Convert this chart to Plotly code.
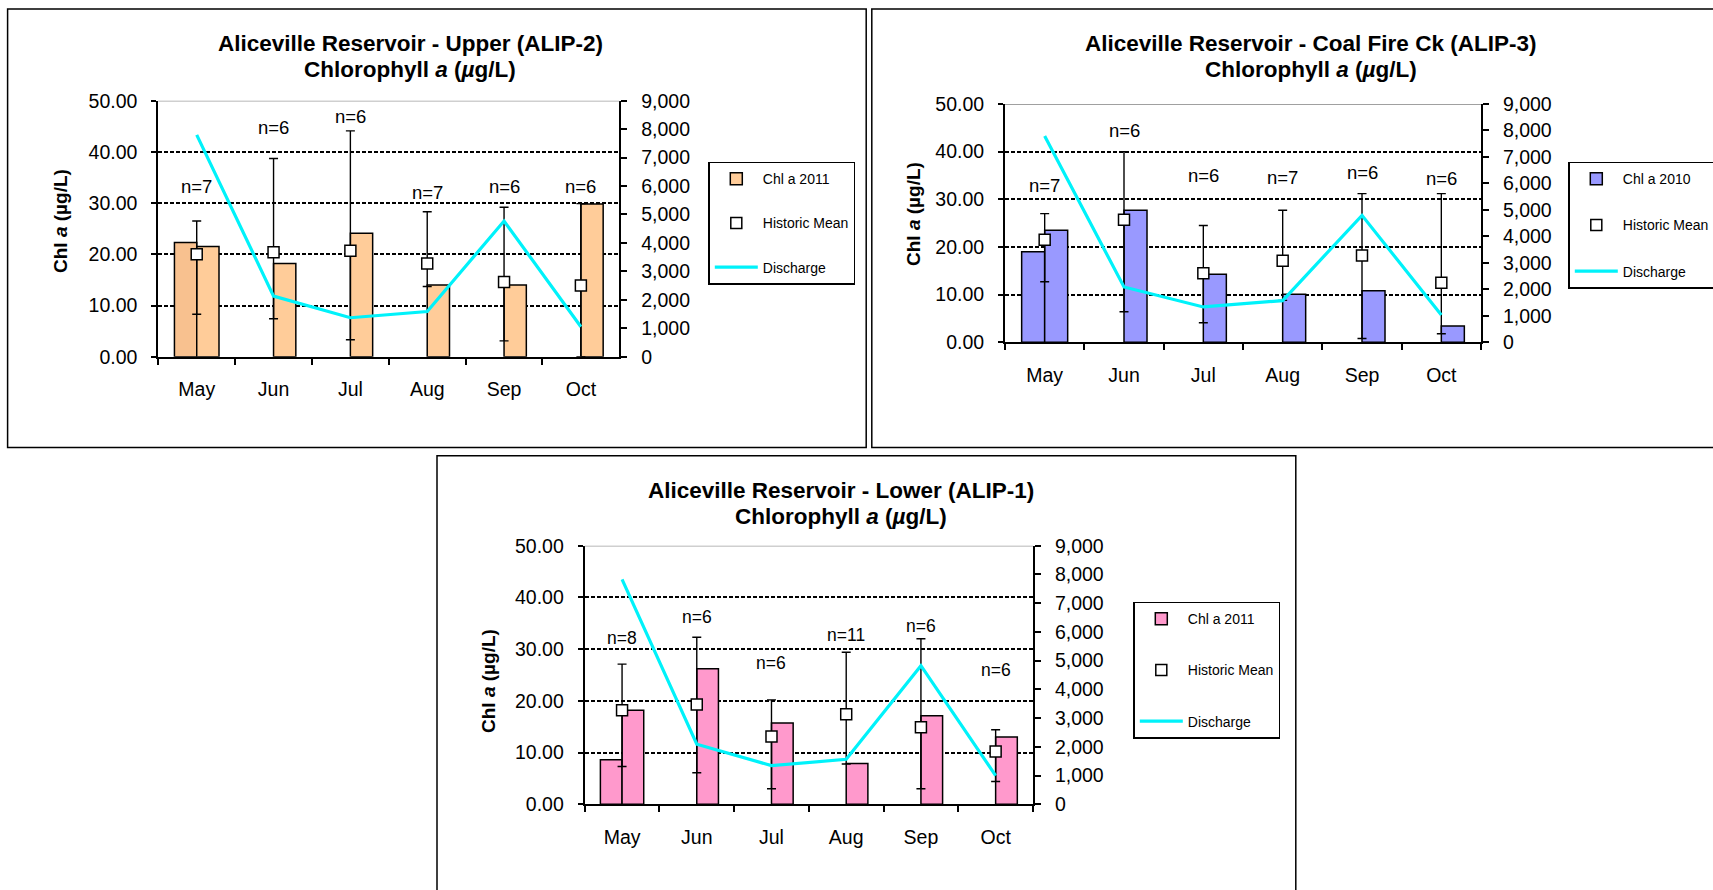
import plotly.graph_objects as go

W, H = 1713, 890
FONT = "Liberation Sans, Arial, sans-serif"

months = ["May", "Jun", "Jul", "Aug", "Sep", "Oct"]

# ---------------- Panel 1: Upper (ALIP-2) ----------------
up_bar_early = [22.3, None, None, None, None, None]
up_bar = [21.5, 18.2, 24.1, 14.0, 14.0, 29.8]
up_mean = [20.0, 20.4, 20.7, 18.2, 14.6, 13.9]
up_hi = [26.5, 38.7, 44.1, 28.3, 29.2, 29.9]
up_lo = [8.3, 7.4, 3.3, 13.7, 3.1, 0.0]
up_q = [7800, 2130, 1370, 1590, 4770, 1055]
up_n = ["n=7", "n=6", "n=6", "n=7", "n=6", "n=6"]
up_n_y = [33.2, 44.7, 46.9, 32.1, 33.2, 33.3]

# ---------------- Panel 2: Coal Fire Ck (ALIP-3) ----------------
cf_bar_early = [19.0, None, None, None, None, None]
cf_bar = [23.5, 27.7, 14.3, 10.1, 10.8, 3.4]
cf_mean = [21.5, 25.7, 14.5, 17.1, 18.2, 12.5]
cf_hi = [27.0, 40.0, 24.5, 27.7, 31.2, 31.2]
cf_lo = [12.7, 6.4, 4.1, 8.8, 0.8, 1.8]
cf_q = [7790, 2090, 1335, 1575, 4795, 1030]
cf_n = ["n=7", "n=6", "n=6", "n=7", "n=6", "n=6"]
cf_n_y = [33.0, 44.5, 35.1, 34.6, 35.6, 34.4]

# ---------------- Panel 3: Lower (ALIP-1) ----------------
lo_bar_early = [8.6, None, None, None, None, None]
lo_bar = [18.2, 26.2, 15.7, 7.9, 17.1, 13.0]
lo_mean = [18.2, 19.3, 13.1, 17.4, 14.9, 10.2]
lo_hi = [27.1, 32.3, 20.2, 29.4, 32.0, 14.4]
lo_lo = [7.3, 6.1, 3.0, 7.8, 3.0, 4.4]
lo_q = [7830, 2090, 1345, 1565, 4825, 1000]
lo_n = ["n=8", "n=6", "n=6", "n=11", "n=6", "n=6"]
lo_n_y = [32.1, 36.3, 27.4, 32.7, 34.5, 26.0]


def px_x(p):
    return p / W


def px_y(p):
    return 1 - p / H


fig = go.Figure()
annotations = []
shapes = []
layout = {}

panels = [
    dict(early=up_bar_early, bar=up_bar, mean=up_mean, hi=up_hi, lo=up_lo, q=up_q,
         n=up_n, ny=up_n_y, name="Chl a 2011", color="#FFCC99", early_color="#F8C18F",
         xa="x", ya="y", ya2="y2", lg="legend", nsize=18.5,
         dom_x=(158.3, 619.3), dom_y=(100.7, 356.7),
         title1="Aliceville Reservoir - Upper (ALIP-2)", tx=410, ty1=43.7, ty2=69.0,
         ytx=60, yty=221,
         leg=(708.3, 161.7), leg_gap=23,
         border=(7.6, 9.0, 866.2, 447.5)),
    dict(early=cf_bar_early, bar=cf_bar, mean=cf_mean, hi=cf_hi, lo=cf_lo, q=cf_q,
         n=cf_n, ny=cf_n_y, name="Chl a 2010", color="#9999FF", early_color="#9999FF",
         xa="x2", ya="y3", ya2="y4", lg="legend2", nsize=18.5,
         dom_x=(1005.0, 1481.0), dom_y=(104.0, 342.3),
         title1="Aliceville Reservoir - Coal Fire Ck (ALIP-3)", tx=1310.5, ty1=43.7, ty2=69.5,
         ytx=913, yty=214,
         leg=(1568.3, 161.7), leg_gap=25,
         border=(871.8, 9.0, 1720.0, 447.5)),
    dict(early=lo_bar_early, bar=lo_bar, mean=lo_mean, hi=lo_hi, lo=lo_lo, q=lo_q,
         n=lo_n, ny=lo_n_y, name="Chl a 2011", color="#FF99CC", early_color="#FF99CC",
         xa="x3", ya="y5", ya2="y6", lg="legend3", nsize=17.5,
         dom_x=(584.7, 1033.0), dom_y=(545.7, 804.3),
         title1="Aliceville Reservoir - Lower (ALIP-1)", tx=841, ty1=490.5, ty2=516.7,
         ytx=488, yty=681,
         leg=(1133.3, 601.7), leg_gap=30,
         border=(437.0, 455.8, 1295.8, 900.0)),
]

BAR_W = 0.29

for i, p in enumerate(panels):
    xa, ya, ya2, lg = p["xa"], p["ya"], p["ya2"], p["lg"]
    gid = str(i)
    # early-season bar (left of center, only May)
    fig.add_trace(go.Bar(
        x=months, y=p["early"], width=BAR_W, offset=-BAR_W,
        marker=dict(color=p["early_color"], line=dict(color="black", width=1.5)),
        showlegend=False, xaxis=xa, yaxis=ya, legend=lg, hoverinfo="skip"))
    # main bar
    fig.add_trace(go.Bar(
        x=months, y=p["bar"], width=BAR_W, offset=0, name=p["name"],
        marker=dict(color=p["color"], line=dict(color="black", width=1.5)),
        xaxis=xa, yaxis=ya, legend=lg, legendgroup="a" + gid))
    # historic mean with error bars
    up = [h - m for h, m in zip(p["hi"], p["mean"])]
    dn = [m - l for m, l in zip(p["mean"], p["lo"])]
    fig.add_trace(go.Scatter(
        x=months, y=p["mean"], mode="markers", name="Historic Mean",
        marker=dict(symbol="square", size=11, color="white", line=dict(color="black", width=1.5)),
        error_y=dict(type="data", symmetric=False, array=up, arrayminus=dn,
                     color="black", thickness=1.4, width=4.5),
        xaxis=xa, yaxis=ya, legend=lg, legendgroup="b" + gid))
    # discharge
    fig.add_trace(go.Scatter(
        x=months, y=p["q"], mode="lines", name="Discharge",
        line=dict(color="#00F2FA", width=3.2),
        xaxis=xa, yaxis=ya2, legend=lg, legendgroup="c" + gid))

    xkey = "xaxis" if xa == "x" else "xaxis" + xa[1:]
    ykey = "yaxis" if ya == "y" else "yaxis" + ya[1:]
    y2key = "yaxis" + ya2[1:]
    dx = p["dom_x"]
    dy = p["dom_y"]
    layout[xkey] = dict(
        domain=[px_x(dx[0]), px_x(dx[1])], anchor=ya, type="category",
        categoryorder="array", categoryarray=months, range=[-0.5, 5.5],
        tickson="boundaries", ticks="outside", ticklen=6, tickwidth=1.5, tickcolor="black",
        showline=True, linecolor="black", linewidth=2, showgrid=False,
        tickfont=dict(size=19.5, color="black", family=FONT), ticklabelstandoff=14,
        fixedrange=True)
    layout[ykey] = dict(
        domain=[px_y(dy[1]), px_y(dy[0])], anchor=xa, range=[0, 50], tick0=0, dtick=10,
        tickformat=".2f", showline=True, linecolor="black", linewidth=2,
        ticks="outside", ticklen=5, tickwidth=1.5, tickcolor="black",
        showgrid=True, gridcolor="black", griddash="4px,2px", gridwidth=1.5,
        zeroline=False, tickfont=dict(size=19.5, color="black", family=FONT),
        ticklabelstandoff=10, fixedrange=True)
    layout[y2key] = dict(
        overlaying=ya, anchor=xa, side="right", range=[0, 9000], tick0=0, dtick=1000,
        tickformat=",d", showline=True, linecolor="black", linewidth=2,
        ticks="outside", ticklen=6, tickwidth=1.5, tickcolor="black",
        showgrid=False, zeroline=False,
        tickfont=dict(size=19.5, color="black", family=FONT),
        ticklabelstandoff=10, fixedrange=True)

    # legend
    layout[lg] = dict(
        x=px_x(p["leg"][0]), y=px_y(p["leg"][1]), xanchor="left", yanchor="top",
        bgcolor="white", bordercolor="black", borderwidth=1.5,
        font=dict(size=14, color="black", family=FONT),
        itemwidth=43, tracegroupgap=p["leg_gap"], traceorder="grouped")

    # n labels
    for m, t, yy in zip(months, p["n"], p["ny"]):
        annotations.append(dict(
            x=m, y=yy, xref=xa, yref=ya, text=t, showarrow=False,
            xanchor="center", yanchor="middle",
            font=dict(size=p["nsize"], color="black", family=FONT)))

    # titles
    annotations.append(dict(
        x=px_x(p["tx"]), y=px_y(p["ty1"]), xref="paper", yref="paper",
        xanchor="center", yanchor="middle",
        text="<b>" + p["title1"] + "</b>", showarrow=False,
        font=dict(size=22.5, color="black", family=FONT)))
    annotations.append(dict(
        x=px_x(p["tx"]), y=px_y(p["ty2"]), xref="paper", yref="paper",
        xanchor="center", yanchor="middle",
        text="<b>Chlorophyll <i>a</i> (<i>µ</i>g/L)</b>", showarrow=False,
        font=dict(size=22.5, color="black", family=FONT)))
    # y-axis title
    annotations.append(dict(
        x=px_x(p["ytx"]), y=px_y(p["yty"]), xref="paper", yref="paper",
        xanchor="center", yanchor="middle",
        text="<b>Chl <i>a</i> (µg/L)</b>", textangle=-90, showarrow=False,
        font=dict(size=19, color="black", family=FONT)))

    # gray top border line of plot area at 50
    shapes.append(dict(type="line", xref=xa + " domain", yref=ya, x0=0, x1=1, y0=50, y1=50,
                       line=dict(color="#A0A0A0", width=1.8), layer="above"))
    # panel frame
    b = p["border"]
    shapes.append(dict(type="rect", xref="paper", yref="paper",
                       x0=px_x(b[0]), x1=px_x(b[2]), y0=px_y(b[3]), y1=px_y(b[1]),
                       line=dict(color="black", width=1.5), fillcolor="rgba(0,0,0,0)",
                       layer="below"))

fig.update_layout(
    width=W, height=H,
    margin=dict(l=0, r=0, t=0, b=0, pad=0, autoexpand=False),
    paper_bgcolor="white", plot_bgcolor="white",
    barmode="overlay",
    font=dict(family=FONT, color="black"),
    annotations=annotations, shapes=shapes,
    **layout)

fig.write_html("out.html")
